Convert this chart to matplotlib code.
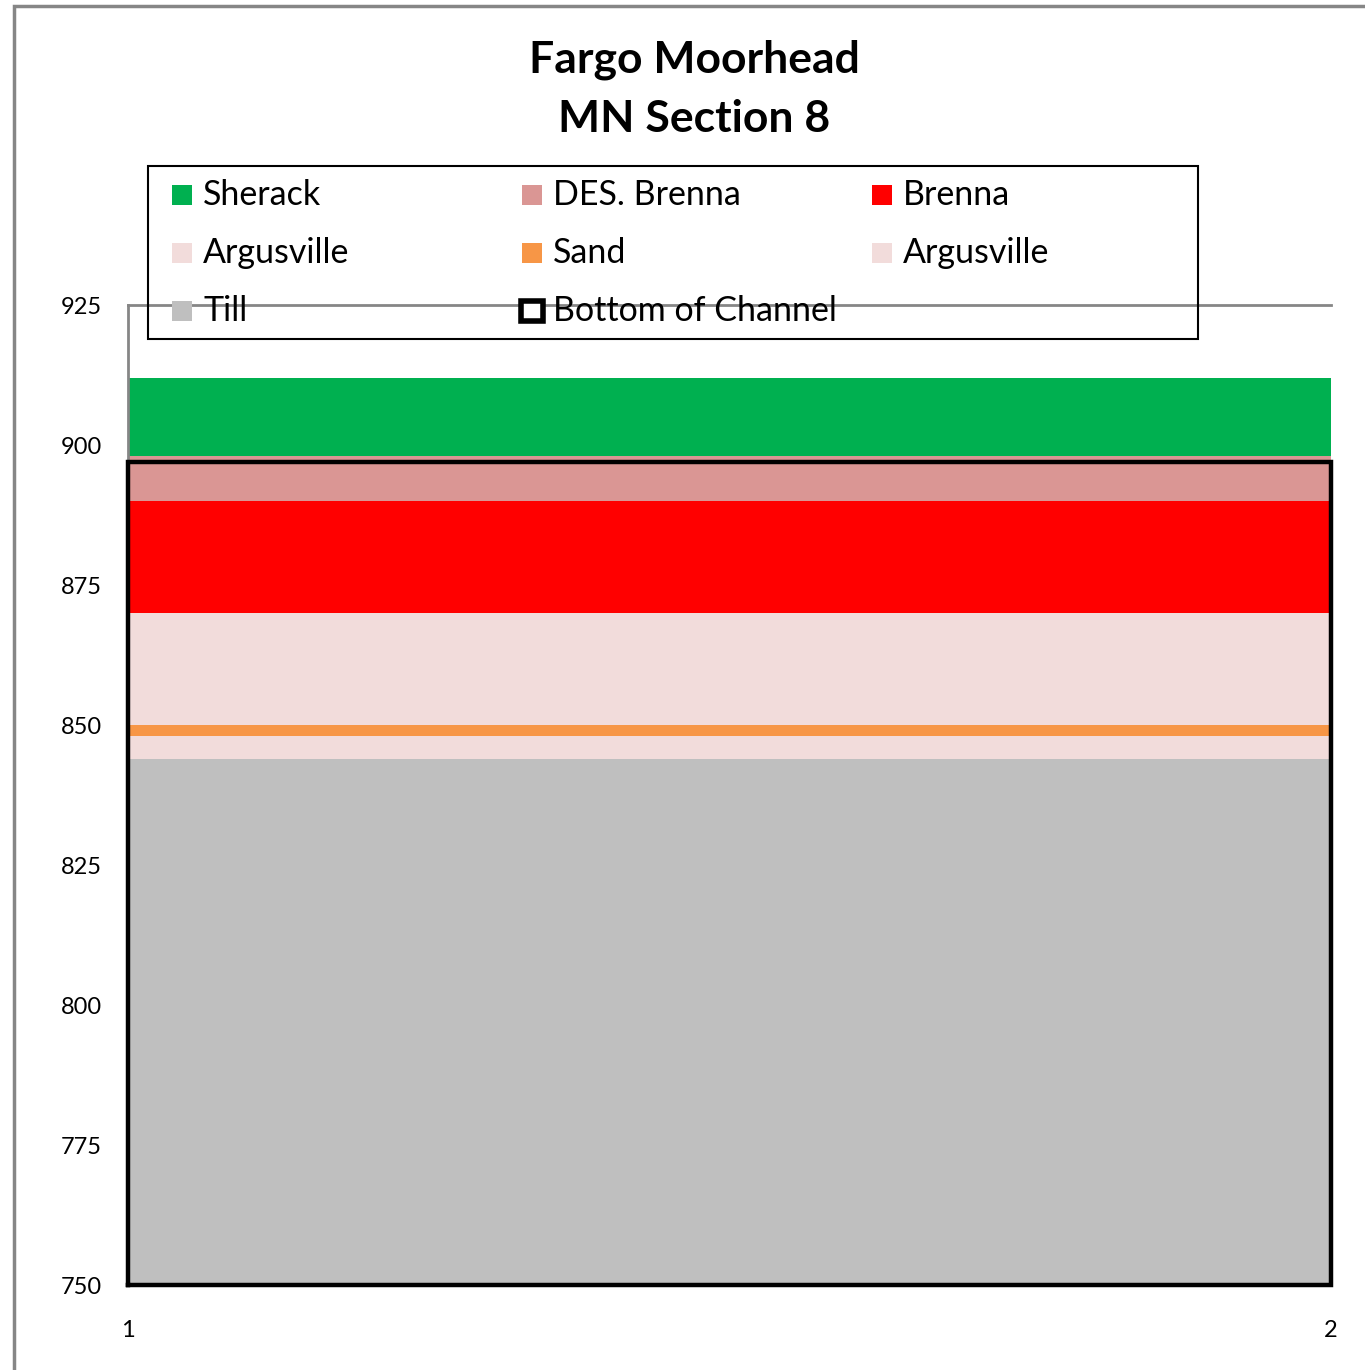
import matplotlib.pyplot as plt
from matplotlib.patches import Rectangle

plt.rcParams['font.family'] = ['Lato', 'DejaVu Sans']

# data: section x positions and layer thicknesses (elevation, ft)
x = [1, 2]
thickness = {
    'Till': [844, 844],
    'Argusville_lo': [4, 4],
    'Sand': [2, 2],
    'Argusville_hi': [20, 20],
    'Brenna': [20, 20],
    'DES. Brenna': [8, 8],
    'Sherack': [14, 14],
}
colors = ['#BFBFBF', '#F2DCDB', '#F79646', '#F2DCDB', '#FF0000', '#DA9694', '#00B050']
channel_x = [1, 1, 2, 2, 1]
channel_y = [750, 897, 897, 750, 750]
yticks = [750, 775, 800, 825, 850, 875, 900, 925]

# legend entries in the reference's row-wise order
leg_labels = ['Sherack', 'DES. Brenna', 'Brenna',
              'Argusville', 'Sand', 'Argusville',
              'Till', 'Bottom of Channel']
leg_colors = ['#00B050', '#DA9694', '#FF0000',
              '#F2DCDB', '#F79646', '#F2DCDB',
              '#BFBFBF', None]

W, H = 1365, 1370
fig = plt.figure(figsize=(W / 100, H / 100), dpi=100)
ax = fig.add_axes([128 / W, 85 / H, 1203 / W, 980 / H])

ax.stackplot(x, *thickness.values(), colors=colors, linewidth=0)
ax.plot(channel_x, channel_y, color='black', lw=3.2, solid_joinstyle='miter', clip_on=False, zorder=5)

ax.set_xlim(1, 2)
ax.set_ylim(750, 925)
ax.set_xticks([1, 2])
ax.set_yticks(yticks)
ax.tick_params(length=0, labelsize=17)
ax.tick_params(axis='y', pad=19)
ax.tick_params(axis='x', pad=25)
for side in ['left', 'top', 'bottom']:
    ax.spines[side].set_color('#868686')
    ax.spines[side].set_linewidth(2)
ax.spines['right'].set_visible(False)

# legend drawn by hand so columns sit at equal spacing like the original
def px(xp, yp):
    return xp / W, 1 - yp / H

fig.patches.append(Rectangle(px(148, 339), 1050 / W, 173 / H, transform=fig.transFigure,
                             fill=False, edgecolor='black', linewidth=1.5, zorder=6))
for i, (lab, col) in enumerate(zip(leg_labels, leg_colors)):
    cx = 172 + 350 * (i % 3)
    cy = 195 + 58 * (i // 3)
    if col is None:
        fig.patches.append(Rectangle(px(cx - 1, cy + 10), 22 / W, 20 / H, transform=fig.transFigure,
                                     facecolor='white', edgecolor='black', linewidth=4, zorder=6))
    else:
        fig.patches.append(Rectangle(px(cx, cy + 10), 20 / W, 20 / H, transform=fig.transFigure,
                                     facecolor=col, edgecolor='none', zorder=6))
    fig.text(*px(cx + 31, cy), lab, ha='left', va='center', fontsize=24.5, zorder=7)

fig.text(*px(694, 60), 'Fargo Moorhead', ha='center', va='center',
         fontsize=32, fontweight='bold')
fig.text(*px(694, 119), 'MN Section 8', ha='center', va='center',
         fontsize=32, fontweight='bold')

# outer chart border
fig.patches.append(Rectangle((14 / W, -0.01), 1.1, 1 - 6 / H + 0.01,
                             transform=fig.transFigure, fill=False,
                             edgecolor='#868686', linewidth=2.5))

fig.savefig('out.png', dpi=100)
